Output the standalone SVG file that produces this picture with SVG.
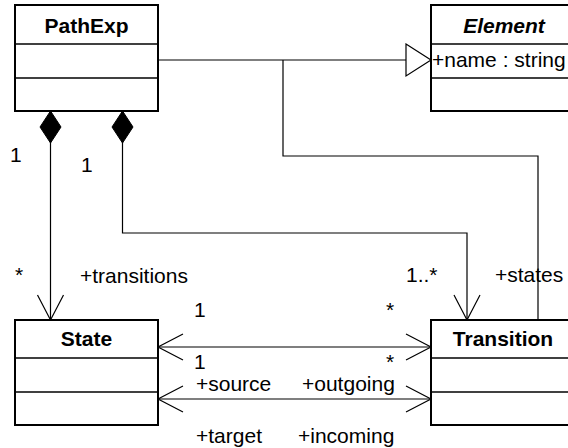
<svg xmlns="http://www.w3.org/2000/svg" width="568" height="448" viewBox="0 0 568 448">
  <style>
    .box { fill: #fff; stroke: #000; stroke-width: 2; }
    .div { stroke: #000; stroke-width: 1.5; }
    .edge { fill: none; stroke: #000; stroke-width: 1.2; }
    text { font-family: "Liberation Sans", Arial, sans-serif; font-size: 21px; fill: #000; }
    .small { font-size: 20px; }
    .title { font-weight: bold; text-anchor: middle; }
    .abstract { font-style: italic; }
  </style>
  <defs>
    <!-- open navigability arrowhead -->
    <marker id="open" markerUnits="userSpaceOnUse" markerWidth="28" markerHeight="30" refX="25" refY="13" orient="auto-start-reverse" overflow="visible">
      <path d="M0,0 L25,13 L0,26" fill="none" stroke="#000" stroke-width="1.2"/>
    </marker>
    <!-- composition diamond -->
    <marker id="diamond" markerUnits="userSpaceOnUse" markerWidth="34" markerHeight="24" refX="0" refY="10.5" orient="auto" overflow="visible">
      <path d="M0,10.5 L16,0 L32,10.5 L16,21 Z" fill="#000" stroke="#000" stroke-width="1"/>
    </marker>
    <!-- generalization triangle -->
    <marker id="inherit" markerUnits="userSpaceOnUse" markerWidth="28" markerHeight="34" refX="25" refY="16" orient="auto" overflow="visible">
      <path d="M0,0 L25,16 L0,32 Z" fill="#fff" stroke="#000" stroke-width="1.2"/>
    </marker>
  </defs>

  <g id="connectors">
    <path class="edge" d="M158,60 H431" marker-end="url(#inherit)"/>
    <path class="edge" d="M538,320 V156 H283 V60"/>
    <path class="edge" d="M50.5,111 V320" marker-start="url(#diamond)" marker-end="url(#open)"/>
    <path class="edge" d="M122.5,111 V233 H467 V320" marker-start="url(#diamond)" marker-end="url(#open)"/>
    <path class="edge" d="M158,347 H431" marker-start="url(#open)" marker-end="url(#open)"/>
    <path class="edge" d="M158,399 H431" marker-start="url(#open)" marker-end="url(#open)"/>
  </g>

  <g id="labels">
    <text x="10" y="162">1</text>
    <text x="81" y="172">1</text>
    <text x="15" y="282">*</text>
    <text x="80" y="283">+transitions</text>
    <text x="406" y="282">1..*</text>
    <text x="495" y="282">+states</text>
    <text x="194" y="317">1</text>
    <text x="386" y="317">*</text>
    <text x="194" y="369">1</text>
    <text x="386" y="369">*</text>
    <text x="196" y="391">+source</text>
    <text x="302" y="391">+outgoing</text>
    <text x="196" y="443">+target</text>
    <text x="298" y="443">+incoming</text>
  </g>

  <g id="PathExp">
    <rect class="box" x="15" y="5" width="143" height="106"/>
    <line class="div" x1="15" y1="44" x2="158" y2="44"/>
    <line class="div" x1="15" y1="78" x2="158" y2="78"/>
    <text class="title" x="86.5" y="33">PathExp</text>
  </g>

  <g id="Element">
    <rect class="box" x="431" y="5" width="146" height="106"/>
    <line class="div" x1="431" y1="44" x2="577" y2="44"/>
    <line class="div" x1="431" y1="78" x2="577" y2="78"/>
    <text class="title abstract" x="504" y="33">Element</text>
    <text x="432" y="67">+name : string</text>
  </g>

  <g id="State">
    <rect class="box" x="15" y="320" width="143" height="105"/>
    <line class="div" x1="15" y1="358" x2="158" y2="358"/>
    <line class="div" x1="15" y1="392" x2="158" y2="392"/>
    <text class="title" x="86.5" y="346">State</text>
  </g>

  <g id="Transition">
    <rect class="box" x="431" y="320" width="146" height="105"/>
    <line class="div" x1="431" y1="358" x2="577" y2="358"/>
    <line class="div" x1="431" y1="392" x2="577" y2="392"/>
    <text class="title" x="503" y="346">Transition</text>
  </g>
</svg>
